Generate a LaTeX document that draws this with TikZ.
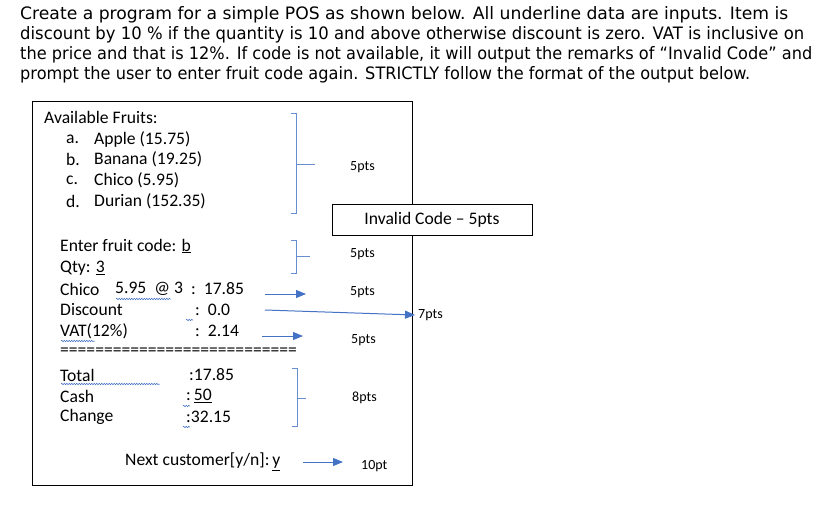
\documentclass[tikz,border=0pt]{standalone}
\usepackage{fontspec}
\usepackage{graphicx}
\setmainfont{Carlito}
\newfontfamily\verd{DejaVu Sans}
\usetikzlibrary{decorations.pathmorphing,arrows.meta}
\definecolor{bl}{HTML}{4472C4}
\begin{document}
\begin{tikzpicture}[x=1pt,y=-1pt,
  tl/.style={anchor=west,inner sep=0,font=\verd\fontsize{17.1}{19}\selectfont},
  bt/.style={anchor=west,inner sep=0,font=\fontsize{17.6}{19}\selectfont},
  lb/.style={anchor=west,inner sep=0,font=\fontsize{14}{16}\selectfont},
  arr/.style={bl,-{Triangle[length=10pt,width=8pt]},line width=1pt},
  brk/.style={bl!80,line width=0.7pt},
  wav/.style={bl,decorate,decoration={snake,amplitude=0.8pt,segment length=2.5pt},line width=0.5pt}]
\useasboundingbox (0,0) rectangle (826,516);
\node[tl] (l1) at (20,15) {\resizebox{768pt}{\height}{Create a program for a simple POS as shown below. All underline data are inputs. Item is}};
\node[tl] (l2) at (20,35) {\resizebox{784pt}{\height}{discount by 10 \% if the quantity is 10 and above otherwise discount is zero. VAT is inclusive on}};
\node[tl] (l3) at (20,55) {\resizebox{792pt}{\height}{the price and that is 12\%. If code is not available, it will output the remarks of “Invalid Code” and}};
\node[tl] (l4) at (20,75) {\resizebox{730pt}{\height}{prompt the user to enter fruit code again. STRICTLY follow the format of the output below.}};
\draw[line width=0.8pt] (32,101) rectangle (412,485);
\node[draw,fill=white,line width=0.8pt,minimum width=200,minimum height=31,inner sep=0,font=\fontsize{17.6}{19}\selectfont] (inv) at (432,219.5) {Invalid Code -- 5pts};
\node[bt] (af) at (44,117) {Available Fruits:};
\foreach \l/\t/\y [count=\i] in {a./Apple (15.75)/139,b./Banana (19.25)/159,c./Chico (5.95)/180,d./Durian (152.35)/201}{
  \node[bt] (k\i) at (66,\y) {\l};
  \node[bt] (f\i) at (94,\y) {\t};
}
\node[bt] (efc) at (60,246) {Enter fruit code: \underline{b}};
\node[bt] (qty) at (60,268) {Qty: \underline{3}};
\node[bt] (ch) at (60,289) {Chico};
\node[bt] (chp) at (115,289) {5.95\ \ @ 3};
\node[bt] (chv) at (191,289) {:\ \ 17.85};
\node[bt] (ds) at (60,310) {Discount};
\node[bt] (dsv) at (195,310) {:\ \ 0.0};
\node[bt] (vt) at (60,331) {VAT(12\%)};
\node[bt] (vtv) at (195,331) {:\ \ 2.14};
\node[bt] (eq) at (60,352) {===========================};
\node[bt] (tt) at (60,375) {Total};
\node[bt] (ttv) at (189,375) {:17.85};
\node[bt] (cs) at (60,396) {Cash};
\node[bt] (csv) at (186,396) {:\,\underline{50}};
\node[bt] (cg) at (60,417) {Change};
\node[bt] (cgv) at (186,417) {:32.15};
\node[bt] (nc) at (125,462) {Next customer[y/n]:\,\underline{y}};
% wavy underlines
\draw[wav] (116,299) -- (171,299);
\draw[wav] (186,320) -- (193,320);
\draw[wav] (61,341) -- (95,341);
\draw[wav] (61,384) -- (160,384);
\draw[wav] (183,406) -- (190,406);
\draw[wav] (183,427) -- (190,427);
% brackets
\draw[brk] (291,113) -- (296,113) -- (296,213) -- (291,213);
\draw[brk] (296,164) -- (315,164);
\draw[brk] (291,240) -- (296,240) -- (296,273) -- (291,273);
\draw[brk] (296,256) -- (310,256);
\draw[brk] (292,368) -- (297,368) -- (297,426) -- (292,426);
\draw[brk] (297,398) -- (306,398);
% labels
\node[lb] (p1) at (350,167) {5pts};
\node[lb] (p2) at (350,254) {5pts};
\node[lb] (p3) at (350,292) {5pts};
\node[lb] (p4) at (418,315) {7pts};
\node[lb] (p5) at (351,340) {5pts};
\node[lb] (p6) at (352,398) {8pts};
\node[lb] (p7) at (361,466) {10pt};
% arrows
\coordinate (a1) at (265,294);
\coordinate (a2) at (265,310);
\coordinate (a3) at (262,336);
\coordinate (a4) at (303,462);
\draw[arr] (a1) -- (306,294);
\draw[arr] (a2) -- ([xshift=-3pt]p4.west);
\draw[arr] (a3) -- (303,336);
\draw[arr] (a4) -- (343,462);
\end{tikzpicture}
\end{document}
